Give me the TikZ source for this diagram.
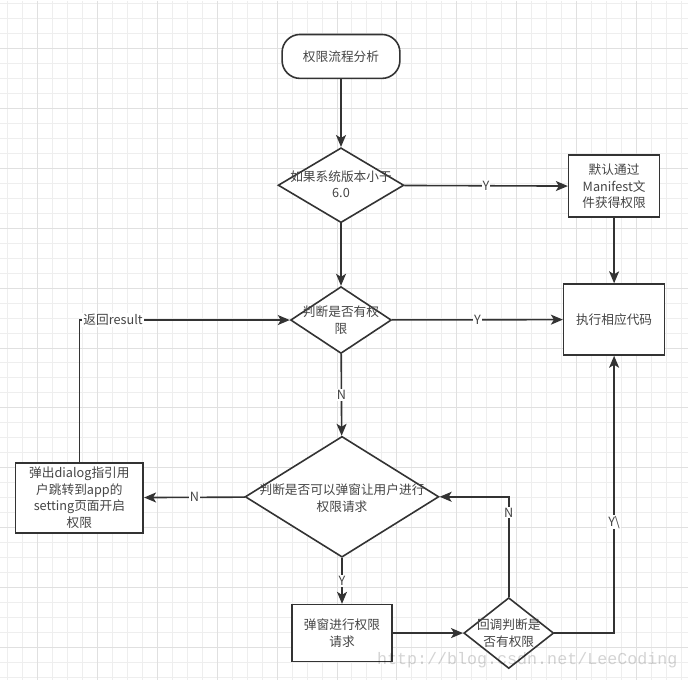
\documentclass[tikz,border=0pt]{standalone}
\usepackage{fontspec}
\newfontfamily\cjk{Noto Sans CJK SC}
\newfontfamily\markfont{Liberation Mono}
\usetikzlibrary{shapes.geometric,arrows.meta}
\definecolor{ink}{HTML}{333333}
\definecolor{inktext}{HTML}{454545}
\definecolor{gridminor}{HTML}{EEEEEE}
\definecolor{gridmajor}{HTML}{E0E0E0}

\begin{document}
\begin{tikzpicture}[x=1pt, y=-1pt, every node/.style={font=\cjk\fontsize{12.7}{16.5}\selectfont, text=inktext},
  box/.style={draw=ink,line width=1.6pt,fill=white,inner sep=0pt,align=center},
  dia/.style={draw=ink,line width=1.6pt,fill=white,diamond,inner sep=0pt},
  txt/.style={align=center,inner sep=0pt},
  flow/.style={draw=ink,line width=1.6pt,-{Stealth[length=12pt,width=10pt,inset=3pt]}},
  tag/.style={fill=white,inner sep=1pt}]
  % canvas and grid
  \fill[white] (0,0) rectangle (688,680);
  \foreach \gx in {7,22,...,682} \draw[gridminor,line width=1pt] (\gx,0) -- (\gx,680);
  \foreach \gy in {3,18,...,678} \draw[gridminor,line width=1pt] (0,\gy) -- (688,\gy);
  \foreach \gx in {37,97,...,637} \draw[gridmajor,line width=1pt] (\gx,0) -- (\gx,680);
  \foreach \gy in {48,108,...,648} \draw[gridmajor,line width=1pt] (0,\gy) -- (688,\gy);

  \node[box,rounded corners=18pt,minimum width=118pt,minimum height=44pt] (start) at (341,56) {权限流程分析};
  \node[dia,minimum width=126pt,minimum height=75pt] (ver) at (341,185) {};
  \node[txt] (ver-t) at (341,184) {如果系统版本小于\\6.0};
  \node[box,minimum width=91pt,minimum height=62pt] (manifest) at (614.5,186) {默认通过\\Manifest文\\件获得权限};
  \node[box,minimum width=101pt,minimum height=71pt] (exec) at (614.5,319.5) {执行相应代码};
  \node[dia,minimum width=101pt,minimum height=67pt] (has) at (341,320) {};
  \node[txt] (has-t) at (341,320) {判断是否有权\\限};
  \node[dia,minimum width=194pt,minimum height=121pt] (ask) at (342,497) {};
  \node[txt] (ask-t) at (342,498.5) {判断是否可以弹窗让用户进行\\权限请求};
  \node[box,minimum width=128pt,minimum height=70pt] (guide) at (79,498) {弹出dialog指引用\\户跳转到app的\\setting页面开启\\权限};
  \node[box,minimum width=100pt,minimum height=57pt] (req) at (342,633.5) {弹窗进行权限\\请求};
  \node[dia,minimum width=90pt,minimum height=71pt] (cb) at (509,633.5) {};
  \node[txt] (cb-t) at (509,633.5) {回调判断是\\否有权限};

  \draw[flow] (start) -- (ver);
  \draw[flow] (ver) -- node[tag] (y1) {Y} (manifest);
  \draw[flow] (manifest) -- (exec);
  \draw[flow] (ver) -- (has);
  \draw[flow] (has) -- node[tag] (y2) {Y} (exec);
  \draw[flow] (guide) |- node[tag,pos=0.58] (ret) {返回result} (has);
  \draw[flow] (has) -- node[tag] (n1) {N} (ask);
  \draw[flow] (ask) -- node[tag] (n2) {N} (guide);
  \draw[flow] (ask) -- node[tag] (y3) {Y} (req);
  \draw[flow] (req) -- (cb);
  \draw[flow] (cb) |- node[tag,pos=0.42] (n3) {N} (ask);
  \draw[flow] (cb) -| node[tag,pos=0.7] (y4) {Y\textbackslash} (exec);

  % watermark
  \node[font=\markfont\fontsize{16.7}{20}\selectfont,text=black,opacity=0.17,anchor=base west,inner sep=0pt] (mark) at (377,665) {http://blog.csdn.net/LeeCoding};
\end{tikzpicture}
\end{document}
